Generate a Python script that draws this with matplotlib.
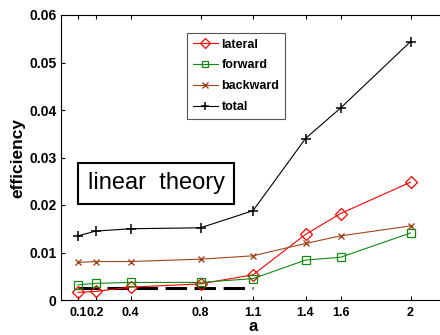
import matplotlib
matplotlib.use("Agg")
import matplotlib.pyplot as plt

plt.rcParams['font.family'] = ['Liberation Sans', 'DejaVu Sans']

# a values and efficiency curves
a_vals = [0.1, 0.2, 0.4, 0.8, 1.1, 1.4, 1.6, 2.0]
lateral = [0.0016, 0.0018, 0.0027, 0.0034, 0.0053, 0.0138, 0.0182, 0.0248]
forward = [0.0032, 0.0035, 0.0037, 0.0037, 0.0045, 0.0084, 0.0090, 0.0141]
backward = [0.0079, 0.0081, 0.0081, 0.0086, 0.0093, 0.0119, 0.0135, 0.0156]
total = [0.0135, 0.0145, 0.0150, 0.0152, 0.0188, 0.0340, 0.0404, 0.0544]

# linear theory level (dashed)
linear_x = [0.1, 1.1]
linear_y = [0.00246, 0.00246]

tick_labels = ["0.1", "0.2", "0.4", "0.8", "1.1", "1.4", "1.6", "2"]
y_ticks = [0, 0.01, 0.02, 0.03, 0.04, 0.05, 0.06]
y_labels = ["0", "0.01", "0.02", "0.03", "0.04", "0.05", "0.06"]

fig = plt.figure(figsize=(4.4, 3.35), dpi=100)
ax = fig.add_axes([60.5 / 440, 35 / 335, 385 / 440, 285 / 335])

ax.plot(linear_x, linear_y, color='black', linestyle=(0, (7, 2.5)), linewidth=2.2)
ax.plot(a_vals, lateral, color='red', marker='D', markersize=6, markerfacecolor='none',
        markeredgewidth=0.9, linewidth=0.8, label='lateral')
ax.plot(a_vals, forward, color='#108a10', marker='s', markersize=5.5, markerfacecolor='none',
        markeredgewidth=0.9, linewidth=0.8, label='forward')
ax.plot(a_vals, backward, color='#a0441c', marker='x', markersize=5, markeredgewidth=1.0,
        linewidth=0.8, label='backward')
ax.plot(a_vals, total, color='black', marker='+', markersize=7, markeredgewidth=1.1,
        linewidth=0.8, label='total')

ax.set_xlim(0, 2.2)
ax.set_ylim(0, 0.06)
ax.set_xticks(a_vals)
ax.set_xticklabels(tick_labels, fontsize=9, fontweight='bold')
ax.set_yticks(y_ticks)
ax.set_yticklabels(y_labels, fontsize=10, fontweight='bold')
ax.tick_params(direction='in', top=True, right=True, length=3, width=0.8, pad=3)
ax.tick_params(axis='x', pad=5)
for sp in ax.spines.values():
    sp.set_linewidth(0.8)

ax.set_xlabel("a", fontsize=12, fontweight='bold', labelpad=0)
ax.set_ylabel("efficiency", fontsize=12.5, fontweight='bold', labelpad=3)

leg = ax.legend(loc='upper left', bbox_to_anchor=(126.5 / 385, 1 - 18 / 285),
                prop={'weight': 'bold', 'size': 9}, handlelength=2.0, handletextpad=0.3,
                labelspacing=0.7, borderpad=0.45, borderaxespad=0, markerscale=0.8,
                fancybox=False, framealpha=1)
leg.get_frame().set_edgecolor('#555555')
leg.get_frame().set_linewidth(0.8)

ax.text(0.155, 0.0246, "linear  theory", fontsize=17, ha='left', va='center',
        bbox=dict(boxstyle='square,pad=0.4', facecolor='white', edgecolor='black', linewidth=1.5))

fig.savefig("out.png", dpi=100)
